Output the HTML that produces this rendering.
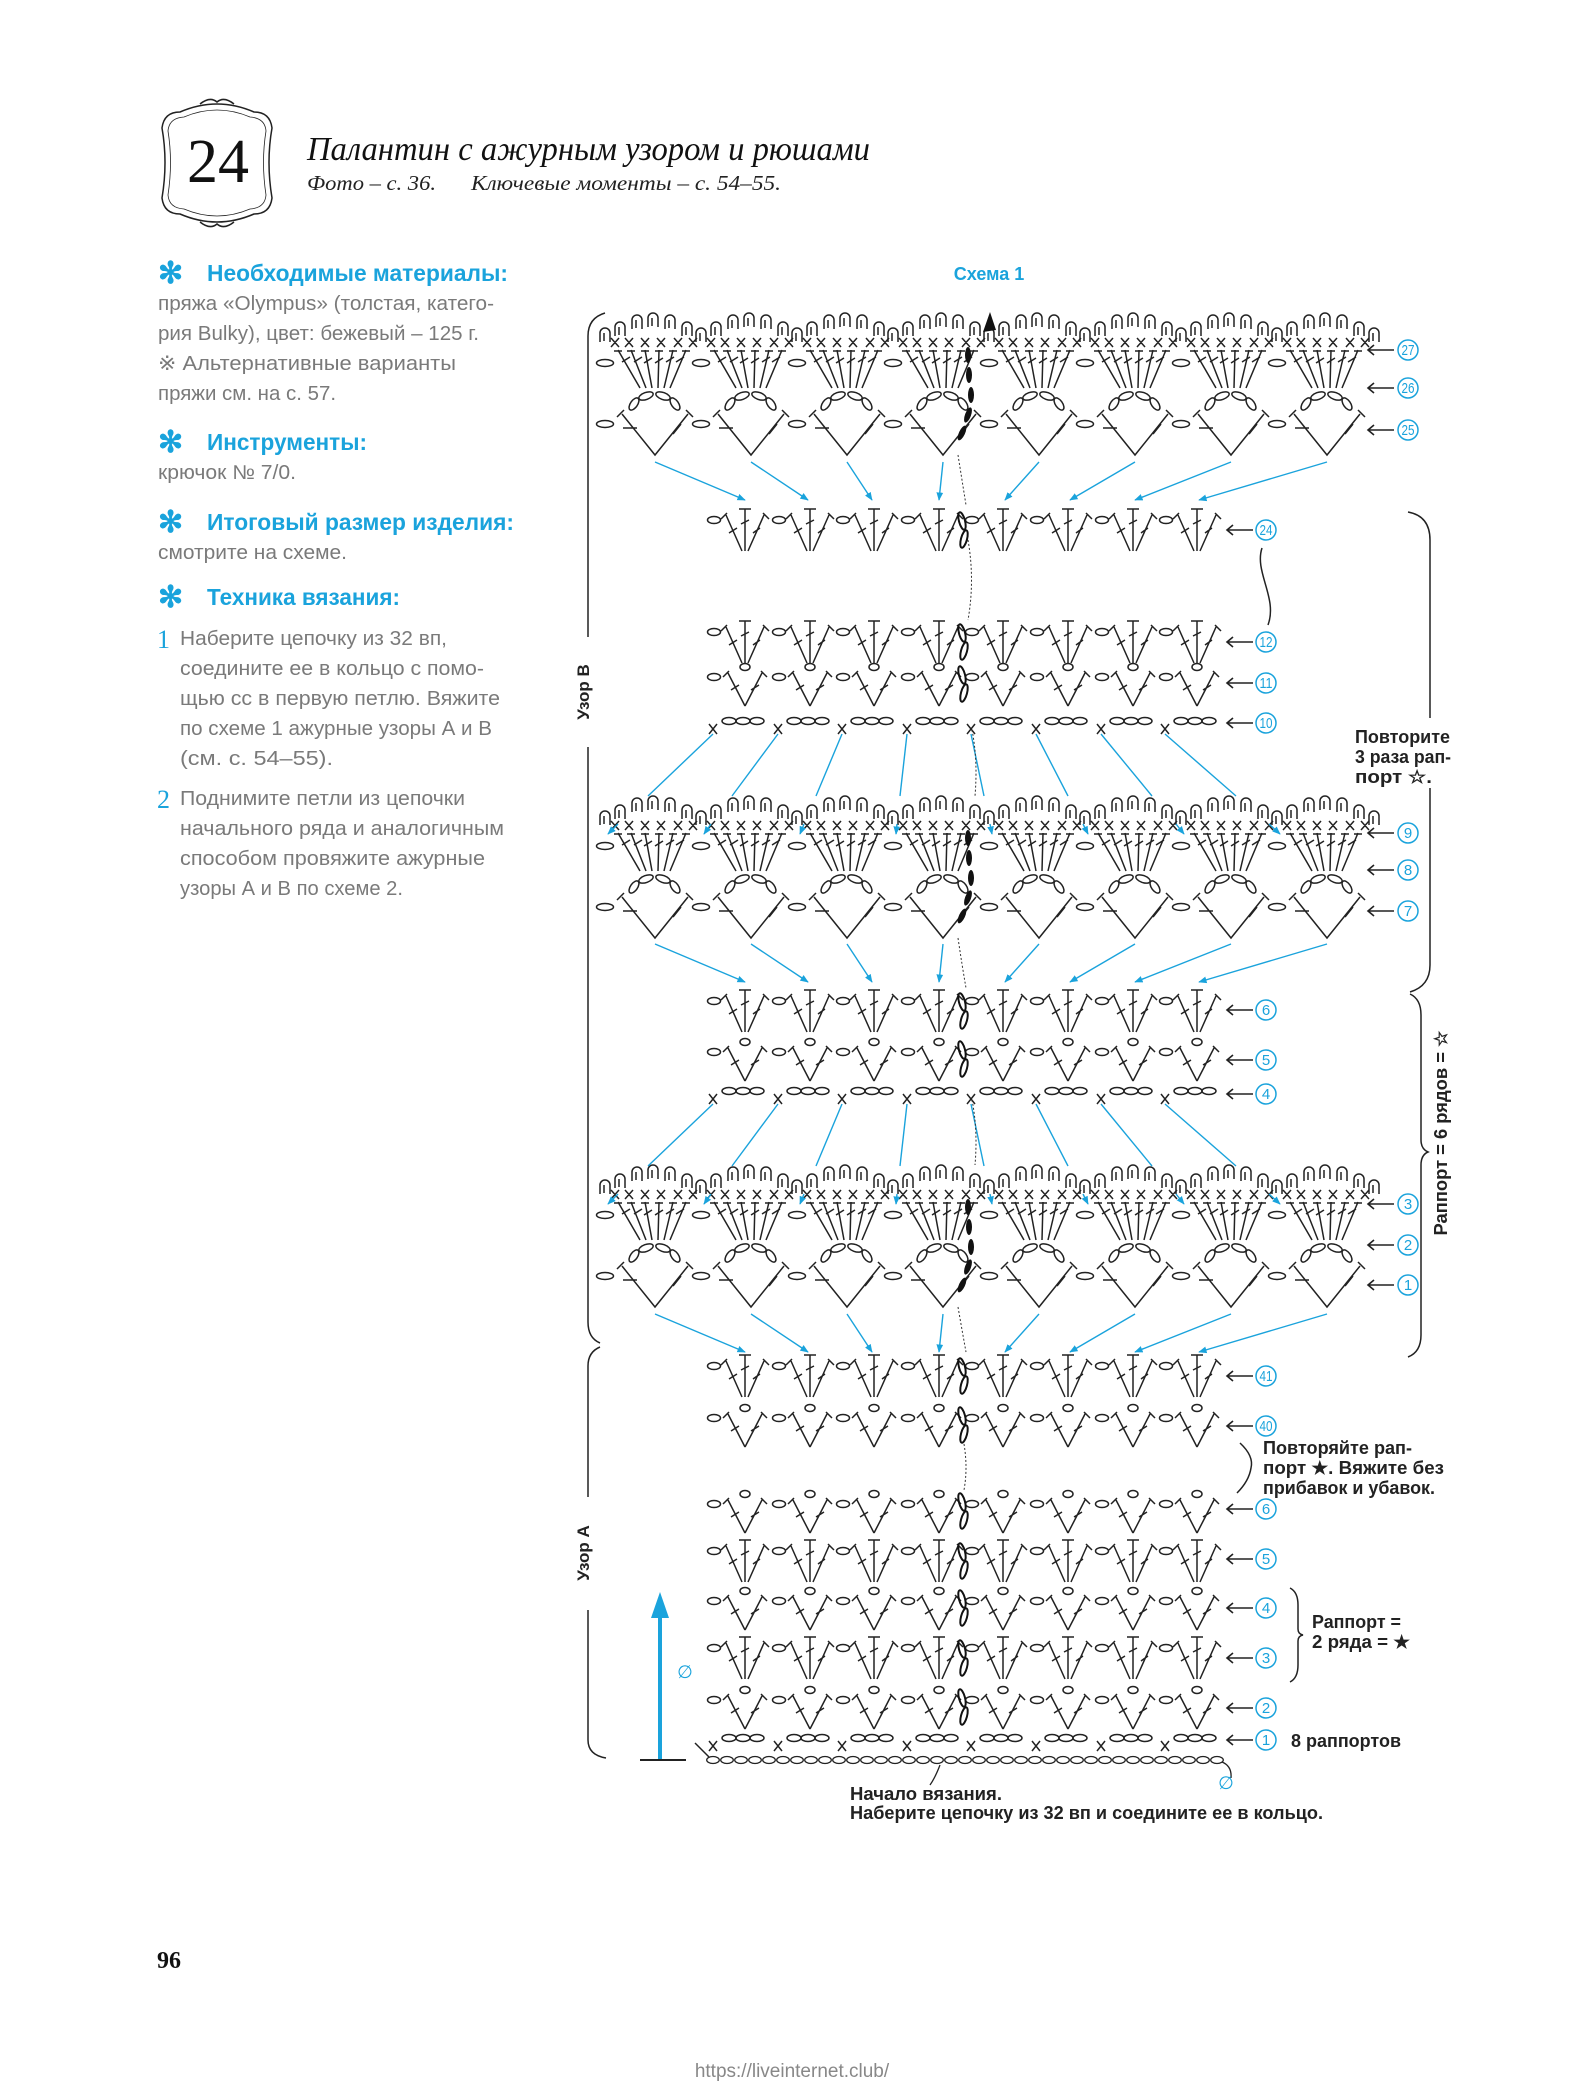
<!DOCTYPE html>
<html><head><meta charset="utf-8"><style>
html,body{margin:0;padding:0;background:#fff;}
svg{display:block;}
.b{font-family:"Liberation Sans Narrow","Liberation Sans",sans-serif;}
.s{font-family:"Liberation Serif",serif;}
</style></head><body>
<svg width="1591" height="2087" viewBox="0 0 1591 2087" xmlns="http://www.w3.org/2000/svg" xmlns:xlink="http://www.w3.org/1999/xlink">
<defs>
<marker id="ah" viewBox="0 0 10 10" refX="9" refY="5" markerWidth="6" markerHeight="6" orient="auto"><path d="M0,1 L10,5 L0,9 z" fill="#1aa3dc"/></marker>
<pattern id="chainp" x="706" y="1755" width="14" height="10" patternUnits="userSpaceOnUse"><ellipse cx="7" cy="5" rx="6.3" ry="3.5" fill="none" stroke="#222" stroke-width="1.3"/></pattern>
<g id="fan" fill="none" stroke="#222" stroke-width="1.5">
<path d="M-55,29 V20 A5,5 0 0 1 -45,20 V29 M-51,28 V20 M-40,23 V14 A5,5 0 0 1 -30,14 V23 M-36,22 V14 M-23,16 V7 A5,5 0 0 1 -13,7 V16 M-19,15 V7 M-7,14 V5 A5,5 0 0 1 3,5 V14 M-3,13 V5 M10,16 V7 A5,5 0 0 1 20,7 V16 M14,15 V7 M27,23 V14 A5,5 0 0 1 37,14 V23 M31,22 V14"/>
<path d="M-44,25 L-36,34 M-36,25 L-44,34 M-30,25 L-22,34 M-22,25 L-30,34 M-14,25 L-6,34 M-6,25 L-14,34 M2,25 L10,34 M10,25 L2,34 M19,25 L27,34 M27,25 L19,34 M34,25 L42,34 M42,25 L34,34"/>
<path d="M-37,37 L-15,75 M-24,37 L-9,75 M-10,37 L-3,75 M4,37 L3,75 M18,37 L9,75 M31,37 L15,75 M-41,38 H-33 M-28,38 H-20 M-14,38 H-6 M0,38 H8 M14,38 H22 M27,38 H35"/>
<path d="M-33,49 L-25,44 M-21,49 L-13,44 M-11,50 L-3,45 M0,50 L8,45 M11,49 L19,44 M21,49 L29,44"/>
<ellipse cx="-50" cy="50" rx="8.5" ry="3.5"/>
<ellipse cx="-21" cy="91" rx="7" ry="3.5" transform="rotate(-55 -21 91)"/>
<ellipse cx="-9" cy="83" rx="7.5" ry="3.5" transform="rotate(-20 -9 83)"/>
<ellipse cx="8" cy="83" rx="7.5" ry="3.5" transform="rotate(20 8 83)"/>
<ellipse cx="20" cy="91" rx="7" ry="3.5" transform="rotate(55 20 91)"/>
<ellipse cx="-50" cy="111" rx="8.5" ry="3.5"/>
<path d="M-38,104 L-31,97 M-33,101 L0,142 L33,101 M31,97 L38,104 M-32,115 H-18 M18,121 L26,111"/>
</g>
<g id="fanrow">
<use href="#fan" x="655"/><use href="#fan" x="751"/><use href="#fan" x="847"/><use href="#fan" x="943"/>
<use href="#fan" x="1039"/><use href="#fan" x="1135"/><use href="#fan" x="1231"/><use href="#fan" x="1327"/>
<path d="M1369,29 V20 A5,5 0 0 1 1379,20 V29 M1373,28 V20" fill="none" stroke="#222" stroke-width="1.5"/>
</g>
<g id="tu" fill="none" stroke="#222" stroke-width="1.5">
<ellipse cx="-31" cy="11" rx="6.5" ry="3.5"/>
<path d="M-24,10 L-18,4 M-19,6 L-3,42 M24,10 L18,4 M19,6 L3,42 M-6,0 H6 M0,0 V42 M-16,24 L-8,19 M-4,15 L4,11 M8,24 L15,19"/>
</g>
<g id="ou" fill="none" stroke="#222" stroke-width="1.5">
<ellipse cx="0" cy="4" rx="5" ry="3.5"/>
<ellipse cx="-31" cy="14" rx="6.5" ry="3.5"/>
<path d="M-22,14 L-16,8 M-17,10 L0,43 M22,14 L16,8 M17,10 L0,43 M-14,27 L-6,22 M6,27 L14,22"/>
</g>
<g id="cu" fill="none" stroke="#222" stroke-width="1.5">
<path d="M-36,1 L-28,11 M-28,1 L-36,11"/>
<ellipse cx="-16" cy="-2" rx="7" ry="3.5"/><ellipse cx="-2" cy="-2" rx="7" ry="3.5"/><ellipse cx="12" cy="-2" rx="7" ry="3.5"/>
</g>
<g id="trow"><use href="#tu" x="745"/><use href="#tu" x="810"/><use href="#tu" x="874"/><use href="#tu" x="939"/><use href="#tu" x="1003"/><use href="#tu" x="1068"/><use href="#tu" x="1133"/><use href="#tu" x="1197"/></g>
<g id="orow"><use href="#ou" x="745"/><use href="#ou" x="810"/><use href="#ou" x="874"/><use href="#ou" x="939"/><use href="#ou" x="1003"/><use href="#ou" x="1068"/><use href="#ou" x="1133"/><use href="#ou" x="1197"/></g>
<g id="crow"><use href="#cu" x="745"/><use href="#cu" x="810"/><use href="#cu" x="874"/><use href="#cu" x="939"/><use href="#cu" x="1003"/><use href="#cu" x="1068"/><use href="#cu" x="1133"/><use href="#cu" x="1197"/></g>
<g id="down" stroke="#1aa3dc" stroke-width="1.4" marker-end="url(#ah)">
<line x1="655" y1="0" x2="745" y2="38"/><line x1="751" y1="0" x2="808" y2="38"/><line x1="847" y1="0" x2="872" y2="38"/><line x1="943" y1="0" x2="939" y2="38"/>
<line x1="1039" y1="0" x2="1005" y2="38"/><line x1="1135" y1="0" x2="1070" y2="38"/><line x1="1231" y1="0" x2="1135" y2="38"/><line x1="1327" y1="0" x2="1199" y2="38"/>
</g>
<g id="up" stroke="#1aa3dc" stroke-width="1.4">
<line x1="713" y1="0" x2="648" y2="62"/><line x1="778" y1="0" x2="732" y2="62"/><line x1="842" y1="0" x2="816" y2="62"/><line x1="907" y1="0" x2="900" y2="62"/>
<line x1="971" y1="0" x2="984" y2="62"/><line x1="1036" y1="0" x2="1068" y2="62"/><line x1="1101" y1="0" x2="1152" y2="62"/><line x1="1165" y1="0" x2="1236" y2="62"/>
<g marker-end="url(#ah)">
<line x1="618" y1="90" x2="608" y2="100"/><line x1="711" y1="90" x2="704" y2="100"/><line x1="804" y1="90" x2="800" y2="100"/><line x1="897" y1="90" x2="896" y2="100"/>
<line x1="990" y1="90" x2="992" y2="100"/><line x1="1083" y1="90" x2="1088" y2="100"/><line x1="1176" y1="90" x2="1184" y2="100"/><line x1="1269" y1="90" x2="1280" y2="100"/>
</g></g>
<g id="seamF" fill="#111" stroke="none">
<ellipse cx="968" cy="42" rx="3" ry="8"/><ellipse cx="969" cy="62" rx="3" ry="8"/><ellipse cx="971" cy="82" rx="3" ry="8"/><ellipse cx="968" cy="102" rx="3" ry="8" transform="rotate(20 968 102)"/><ellipse cx="962" cy="120" rx="3" ry="8" transform="rotate(25 962 120)"/>
</g>
<g id="seamR" fill="none" stroke="#111" stroke-width="2">
<ellipse cx="962" cy="12" rx="3" ry="9" transform="rotate(-15 962 12)"/><ellipse cx="964" cy="30" rx="3" ry="9" transform="rotate(15 964 30)"/>
</g>
<g id="lbl" fill="none" stroke="#222" stroke-width="1.6"><path d="M-14,0 H12 M-8,-5 L-14,0 L-8,5"/></g>
</defs>

<!-- header emblem -->
<g fill="none" stroke="#222" stroke-width="1.5">
<path d="M180,112 Q217,96 254,112 Q270,112 272,128 Q266,162 272,198 Q270,214 254,214 Q217,230 180,214 Q164,214 162,198 Q168,162 162,128 Q164,112 180,112 Z"/>
<path d="M184,117 Q217,103 250,117 Q265,118 266,131 Q261,162 266,195 Q265,208 250,209 Q217,223 184,209 Q169,208 168,195 Q173,162 168,131 Q169,118 184,117 Z" stroke-width="0.8"/>
<path d="M200,104 Q210,96 217,102 Q224,96 234,104 M200,222 Q210,230 217,224 Q224,230 234,222"/>
</g>
<text x="218" y="182" class="s" font-size="62" text-anchor="middle" fill="#111">24</text>
<text x="307" y="160" class="s" font-style="italic" font-size="34" fill="#111" textLength="563" lengthAdjust="spacingAndGlyphs">Палантин с ажурным узором и рюшами</text>
<text x="307" y="190" class="s" font-style="italic" font-size="21" fill="#222" textLength="129" lengthAdjust="spacingAndGlyphs">Фото – с. 36.</text>
<text x="471" y="190" class="s" font-style="italic" font-size="21" fill="#222" textLength="310" lengthAdjust="spacingAndGlyphs">Ключевые моменты – с. 54–55.</text>

<!-- left column -->
<g fill="#1aa3dc" class="b" font-weight="bold">
<text x="158" y="283" font-size="30">✻</text>
<text x="207" y="281" font-size="23" textLength="301" lengthAdjust="spacingAndGlyphs">Необходимые материалы:</text>
<text x="158" y="452" font-size="30">✻</text>
<text x="207" y="450" font-size="23" textLength="160" lengthAdjust="spacingAndGlyphs">Инструменты:</text>
<text x="158" y="532" font-size="30">✻</text>
<text x="207" y="530" font-size="23" textLength="307" lengthAdjust="spacingAndGlyphs">Итоговый размер изделия:</text>
<text x="158" y="607" font-size="30">✻</text>
<text x="207" y="605" font-size="23" textLength="193" lengthAdjust="spacingAndGlyphs">Техника вязания:</text>
</g>
<g fill="#7a7a7a" class="b" font-size="20">
<text x="158" y="310" textLength="336" lengthAdjust="spacingAndGlyphs">пряжа «Olympus» (толстая, катего-</text>
<text x="158" y="340" textLength="321" lengthAdjust="spacingAndGlyphs">рия Bulky), цвет: бежевый – 125 г.</text>
<text x="158" y="370" textLength="298" lengthAdjust="spacingAndGlyphs">※ Альтернативные варианты</text>
<text x="158" y="400" textLength="178" lengthAdjust="spacingAndGlyphs">пряжи см. на с. 57.</text>
<text x="158" y="479" textLength="138" lengthAdjust="spacingAndGlyphs">крючок № 7/0.</text>
<text x="158" y="559" textLength="189" lengthAdjust="spacingAndGlyphs">смотрите на схеме.</text>
<text x="180" y="645" textLength="267" lengthAdjust="spacingAndGlyphs">Наберите цепочку из 32 вп,</text>
<text x="180" y="675" textLength="304" lengthAdjust="spacingAndGlyphs">соедините ее в кольцо с помо-</text>
<text x="180" y="705" textLength="320" lengthAdjust="spacingAndGlyphs">щью сс в первую петлю. Вяжите</text>
<text x="180" y="735" textLength="312" lengthAdjust="spacingAndGlyphs">по схеме 1 ажурные узоры А и В</text>
<text x="180" y="765" textLength="153" lengthAdjust="spacingAndGlyphs">(см. с. 54–55).</text>
<text x="180" y="805" textLength="285" lengthAdjust="spacingAndGlyphs">Поднимите петли из цепочки</text>
<text x="180" y="835" textLength="324" lengthAdjust="spacingAndGlyphs">начального ряда и аналогичным</text>
<text x="180" y="865" textLength="305" lengthAdjust="spacingAndGlyphs">способом провяжите ажурные</text>
<text x="180" y="895" textLength="223" lengthAdjust="spacingAndGlyphs">узоры А и В по схеме 2.</text>
</g>
<text x="157" y="648" class="s" font-size="26" fill="#1aa3dc">1</text>
<text x="157" y="808" class="s" font-size="26" fill="#1aa3dc">2</text>

<!-- chart title -->
<text x="989" y="280" class="b" font-weight="bold" font-size="18" fill="#1aa3dc" text-anchor="middle">Схема 1</text>

<!-- chart body -->
<use href="#fanrow" y="313"/>
<use href="#fanrow" y="796"/>
<use href="#fanrow" y="1165"/>
<use href="#seamF" y="313"/><use href="#seamF" y="796"/><use href="#seamF" y="1165"/>
<path d="M983,332 L990,312 L996,330 Z" fill="#111"/>

<use href="#down" y="462"/>
<use href="#down" y="944"/>
<use href="#down" y="1314"/>
<use href="#up" y="734"/>
<use href="#up" y="1104"/>

<use href="#trow" y="509"/>
<use href="#trow" y="621"/>
<use href="#orow" y="663"/>
<use href="#crow" y="723"/>
<use href="#trow" y="990"/>
<use href="#orow" y="1038"/>
<use href="#crow" y="1093"/>
<use href="#trow" y="1355"/>
<use href="#orow" y="1404"/>
<use href="#orow" y="1490"/>
<use href="#trow" y="1540"/>
<use href="#orow" y="1587"/>
<use href="#trow" y="1637"/>
<use href="#orow" y="1686"/>
<use href="#crow" y="1740"/>
<use href="#seamR" y="509"/><use href="#seamR" y="621"/><use href="#seamR" y="663"/><use href="#seamR" y="990"/><use href="#seamR" y="1038"/>
<use href="#seamR" y="1355"/><use href="#seamR" y="1404"/><use href="#seamR" y="1490"/><use href="#seamR" y="1540"/><use href="#seamR" y="1587"/><use href="#seamR" y="1637"/><use href="#seamR" y="1686"/>
<path d="M958,455 Q962,480 966,505 M968,540 Q975,580 968,620 M972,730 Q978,760 975,796 M958,938 Q962,965 966,988 M972,1100 Q978,1130 975,1165 M958,1307 Q962,1330 966,1352 M964,1444 Q968,1468 964,1490" fill="none" stroke="#333" stroke-width="1" stroke-dasharray="2,2"/>

<!-- base chain -->
<path d="M695,1743 L709,1757" fill="none" stroke="#222" stroke-width="1.5"/>
<rect x="706" y="1755" width="518" height="10" fill="url(#chainp)"/>
<path d="M1222,1762 Q1232,1766 1231,1778 M940,1765 Q935,1778 930,1785" fill="none" stroke="#222" stroke-width="1.3"/>

<!-- blue growth arrow -->
<line x1="660" y1="1615" x2="660" y2="1760" stroke="#1aa3dc" stroke-width="4"/>
<path d="M651,1618 L660,1592 L669,1618 Z" fill="#1aa3dc"/>
<line x1="640" y1="1760" x2="686" y2="1760" stroke="#222" stroke-width="2"/>
<text x="685" y="1678" class="b" font-size="18" fill="#1aa3dc" text-anchor="middle">∅</text>
<text x="1226" y="1789" class="b" font-size="18" fill="#1aa3dc" text-anchor="middle">∅</text>

<!-- left brackets -->
<g fill="none" stroke="#222" stroke-width="1.5">
<path d="M605,313 Q588,318 588,336 V637 M588,747 V1322 Q588,1338 600,1343"/>
<path d="M600,1347 Q588,1352 588,1366 V1497 M588,1610 V1740 Q588,1755 606,1758"/>
</g>
<text transform="translate(589,692) rotate(-90)" class="b" font-weight="bold" font-size="17" fill="#222" text-anchor="middle">Узор В</text>
<text transform="translate(589,1553) rotate(-90)" class="b" font-weight="bold" font-size="17" fill="#222" text-anchor="middle">Узор А</text>

<!-- right braces -->
<g fill="none" stroke="#222" stroke-width="1.5">
<path d="M1408,512 Q1430,516 1430,540 V718 M1430,788 V965 Q1430,986 1410,992"/>
<path d="M1410,994 Q1421,999 1421,1015 V1140 Q1421,1149 1428,1152 Q1421,1155 1421,1165 V1335 Q1421,1352 1408,1357"/>
<path d="M1262,548 C1254,572 1278,598 1268,625"/>
<path d="M1240,1443 Q1254,1456 1251,1468 Q1249,1481 1237,1493"/>
<path d="M1290,1588 Q1298,1592 1298,1605 V1629 Q1298,1634 1303,1635 Q1298,1636 1298,1641 V1665 Q1298,1678 1290,1682"/>
</g>
<g class="b" font-weight="bold" font-size="18" fill="#222">
<text x="1355" y="743" textLength="95" lengthAdjust="spacingAndGlyphs">Повторите</text>
<text x="1355" y="763" textLength="96" lengthAdjust="spacingAndGlyphs">3 раза рап-</text>
<text x="1355" y="783" textLength="77" lengthAdjust="spacingAndGlyphs">порт ☆.</text>
<text x="1263" y="1454" textLength="149" lengthAdjust="spacingAndGlyphs">Повторяйте рап-</text>
<text x="1263" y="1474" textLength="181" lengthAdjust="spacingAndGlyphs">порт ★. Вяжите без</text>
<text x="1263" y="1494" textLength="172" lengthAdjust="spacingAndGlyphs">прибавок и убавок.</text>
<text x="1312" y="1628" textLength="89" lengthAdjust="spacingAndGlyphs">Раппорт =</text>
<text x="1312" y="1648" textLength="98" lengthAdjust="spacingAndGlyphs">2 ряда = ★</text>
<text x="1291" y="1747" textLength="110" lengthAdjust="spacingAndGlyphs">8 раппортов</text>
<text x="850" y="1800" textLength="152" lengthAdjust="spacingAndGlyphs">Начало вязания.</text>
<text x="850" y="1819" textLength="473" lengthAdjust="spacingAndGlyphs">Наберите цепочку из 32 вп и соедините ее в кольцо.</text>
</g>
<text transform="translate(1447,1133) rotate(-90)" class="b" font-weight="bold" font-size="18" fill="#222" text-anchor="middle" textLength="205" lengthAdjust="spacingAndGlyphs">Раппорт = 6 рядов = ☆</text>

<!-- row labels -->
<g>
<use href="#lbl" x="1382" y="350"/><use href="#lbl" x="1382" y="388"/><use href="#lbl" x="1382" y="430"/>
<use href="#lbl" x="1382" y="833"/><use href="#lbl" x="1382" y="870"/><use href="#lbl" x="1382" y="911"/>
<use href="#lbl" x="1382" y="1204"/><use href="#lbl" x="1382" y="1245"/><use href="#lbl" x="1382" y="1285"/>
<use href="#lbl" x="1241" y="530"/><use href="#lbl" x="1241" y="642"/><use href="#lbl" x="1241" y="683"/><use href="#lbl" x="1241" y="723"/>
<use href="#lbl" x="1241" y="1010"/><use href="#lbl" x="1241" y="1060"/><use href="#lbl" x="1241" y="1094"/>
<use href="#lbl" x="1241" y="1376"/><use href="#lbl" x="1241" y="1426"/>
<use href="#lbl" x="1241" y="1509"/><use href="#lbl" x="1241" y="1559"/><use href="#lbl" x="1241" y="1608"/><use href="#lbl" x="1241" y="1658"/><use href="#lbl" x="1241" y="1708"/><use href="#lbl" x="1241" y="1740"/>
</g>
<g fill="none" stroke="#1aa3dc" stroke-width="1.5">
<circle cx="1408" cy="350" r="10"/><circle cx="1408" cy="388" r="10"/><circle cx="1408" cy="430" r="10"/>
<circle cx="1408" cy="833" r="10"/><circle cx="1408" cy="870" r="10"/><circle cx="1408" cy="911" r="10"/>
<circle cx="1408" cy="1204" r="10"/><circle cx="1408" cy="1245" r="10"/><circle cx="1408" cy="1285" r="10"/>
<circle cx="1266" cy="530" r="10"/><circle cx="1266" cy="642" r="10"/><circle cx="1266" cy="683" r="10"/><circle cx="1266" cy="723" r="10"/>
<circle cx="1266" cy="1010" r="10"/><circle cx="1266" cy="1060" r="10"/><circle cx="1266" cy="1094" r="10"/>
<circle cx="1266" cy="1376" r="10"/><circle cx="1266" cy="1426" r="10"/>
<circle cx="1266" cy="1509" r="10"/><circle cx="1266" cy="1559" r="10"/><circle cx="1266" cy="1608" r="10"/><circle cx="1266" cy="1658" r="10"/><circle cx="1266" cy="1708" r="10"/><circle cx="1266" cy="1740" r="10"/>
</g>
<g class="b" font-size="15" fill="#1aa3dc" text-anchor="middle">
<text x="1408" y="355" textLength="13" lengthAdjust="spacingAndGlyphs">27</text><text x="1408" y="393" textLength="13" lengthAdjust="spacingAndGlyphs">26</text><text x="1408" y="435" textLength="13" lengthAdjust="spacingAndGlyphs">25</text>
<text x="1408" y="838">9</text><text x="1408" y="875">8</text><text x="1408" y="916">7</text>
<text x="1408" y="1209">3</text><text x="1408" y="1250">2</text><text x="1408" y="1290">1</text>
<text x="1266" y="535" textLength="13" lengthAdjust="spacingAndGlyphs">24</text><text x="1266" y="647" textLength="13" lengthAdjust="spacingAndGlyphs">12</text><text x="1266" y="688" textLength="13" lengthAdjust="spacingAndGlyphs">11</text><text x="1266" y="728" textLength="13" lengthAdjust="spacingAndGlyphs">10</text>
<text x="1266" y="1015">6</text><text x="1266" y="1065">5</text><text x="1266" y="1099">4</text>
<text x="1266" y="1381" textLength="13" lengthAdjust="spacingAndGlyphs">41</text><text x="1266" y="1431" textLength="13" lengthAdjust="spacingAndGlyphs">40</text>
<text x="1266" y="1514">6</text><text x="1266" y="1564">5</text><text x="1266" y="1613">4</text><text x="1266" y="1663">3</text><text x="1266" y="1713">2</text><text x="1266" y="1745">1</text>
</g>

<!-- footer -->
<text x="157" y="1968" class="s" font-weight="bold" font-size="24" fill="#111">96</text>
<text x="792" y="2077" class="b" font-size="19" fill="#888" text-anchor="middle">https://liveinternet.club/</text>
</svg>
</body></html>
